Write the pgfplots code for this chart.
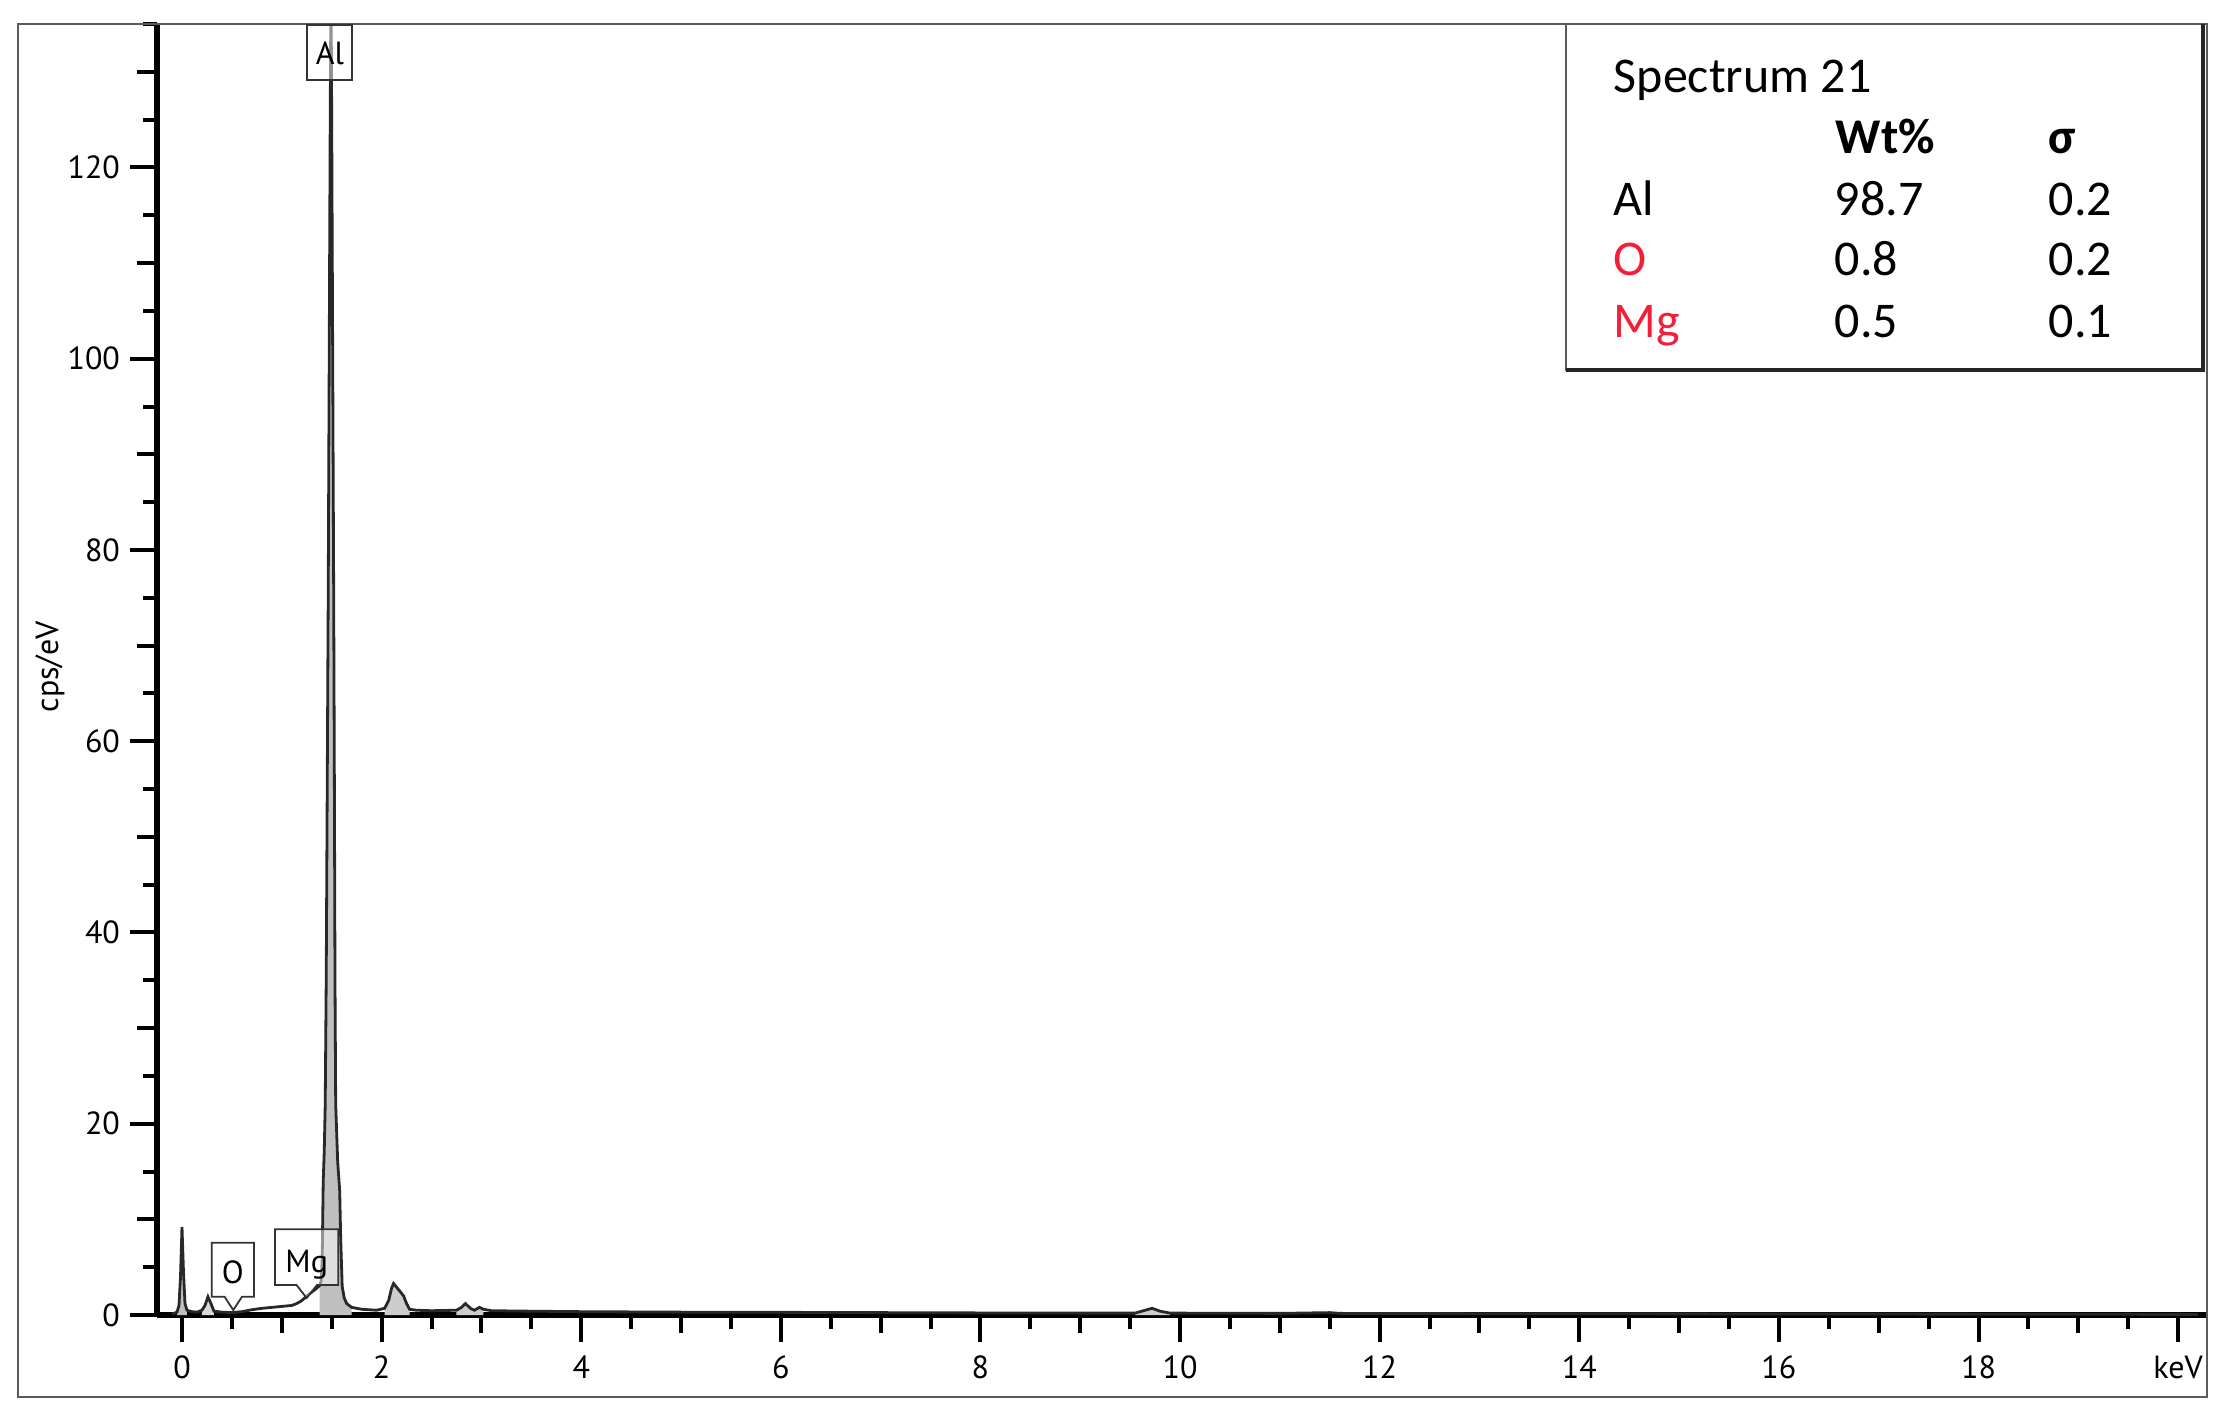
\documentclass[border=0pt]{standalone}
\usepackage{fontspec}
\setmainfont{PT Sans}
\newfontfamily\legfont{Carlito}
\usepackage{pgfplots}
\pgfplotsset{compat=1.18}
\usepackage{pgfplotstable}

\pgfplotstableread{
E cps
-0.10 0.10
-0.05 0.30
-0.03 1.0
-0.015 4.0
0.00 9.2
0.015 4.5
0.03 1.2
0.05 0.5
0.10 0.35
0.15 0.30
0.20 0.50
0.23 1.0
0.26 1.9
0.29 1.2
0.32 0.40
0.40 0.30
0.50 0.25
0.60 0.35
0.70 0.55
0.80 0.70
0.90 0.80
1.00 0.90
1.10 1.00
1.15 1.20
1.20 1.50
1.25 2.00
1.30 2.40
1.35 2.80
1.38 3.10
1.395 3.6
1.405 6.0
1.415 14
1.425 17
1.435 22
1.445 35
1.455 55
1.465 75
1.475 100
1.485 125
1.493 140
1.500 125
1.510 100
1.520 75
1.527 55
1.533 35
1.540 22
1.560 16
1.580 13
1.590 8
1.605 3.0
1.625 1.8
1.65 1.2
1.70 0.8
1.80 0.6
1.95 0.5
2.03 0.7
2.07 1.5
2.10 2.8
2.12 3.3
2.15 2.9
2.19 2.4
2.22 2.0
2.25 1.2
2.28 0.6
2.35 0.5
2.50 0.45
2.75 0.5
2.80 0.8
2.84 1.2
2.89 0.7
2.93 0.5
2.98 0.8
3.02 0.6
3.10 0.45
3.50 0.40
4.00 0.35
5.00 0.30
6.00 0.28
7.00 0.25
8.00 0.22
9.00 0.20
9.55 0.20
9.65 0.50
9.72 0.70
9.80 0.40
9.90 0.20
11.00 0.17
11.50 0.25
11.60 0.17
13.00 0.14
15.00 0.12
17.00 0.10
19.00 0.08
20.20 0.06
}\spectrum

\definecolor{peakfill}{RGB}{192,192,192}
\definecolor{lineclr}{RGB}{40,40,40}
\definecolor{elred}{RGB}{245,30,55}
\definecolor{framegray}{RGB}{90,90,90}

\begin{document}
\begin{tikzpicture}
\begin{axis}[
  scale only axis, width=512.5pt, height=322.75pt,
  xmin=-0.25, xmax=20.29, ymin=0, ymax=135,
  axis x line*=bottom, axis y line*=left,
  axis line style={line width=1.3pt, black},
  tick align=outside,
  xtick={0,2,...,20},
  xticklabels={0,2,4,6,8,10,12,14,16,18,keV},
  minor xtick={0.5,1,...,20},
  extra x ticks={1,3,...,19}, extra x tick labels={},
  extra x tick style={major tick length=4.5pt},
  ytick={0,20,...,120},
  minor ytick={5,10,...,135},
  extra y ticks={10,30,...,130}, extra y tick labels={},
  extra y tick style={major tick length=5pt},
  major tick length=6.75pt, minor tick length=3.4pt,
  tick style={line width=1pt, black},
  tick label style={font=\fontsize{8}{9}\selectfont},
  yticklabel style={xshift=1pt},
  /pgf/number format/assume math mode=true,
  ylabel={cps/eV},
  ylabel style={at={(axis description cs:-0.0522,0.502)}, anchor=center, font=\fontsize{8}{9}\selectfont},
]
\addplot[draw=none, fill=peakfill, restrict x to domain=-0.05:0.05] table[x=E,y=cps]{\spectrum} \closedcycle;
\addplot[draw=none, fill=peakfill!60, restrict x to domain=0.20:0.32] table[x=E,y=cps]{\spectrum} \closedcycle;
\addplot[draw=none, fill=peakfill, restrict x to domain=1.36:1.72] table[x=E,y=cps]{\spectrum} \closedcycle;
\addplot[draw=none, fill=peakfill!80, restrict x to domain=2.03:2.30] table[x=E,y=cps]{\spectrum} \closedcycle;
\addplot[draw=none, fill=peakfill!80, restrict x to domain=2.75:3.05] table[x=E,y=cps]{\spectrum} \closedcycle;
\addplot[draw=none, fill=peakfill!80, restrict x to domain=9.55:9.90] table[x=E,y=cps]{\spectrum} \closedcycle;
\addplot[lineclr, line width=0.7pt] table[x=E,y=cps]{\spectrum};
\coordinate (O) at (axis cs:0,0);
\end{axis}
\begin{scope}[x=0.25pt, y=-0.25pt, shift={(O)}]
\begin{scope}[shift={(-182,-1315)}]
  \path (0,0) rectangle (2224,1416);
  % outer frame
  \draw[framegray, line width=0.5pt] (18,24) rectangle (2207,1397);
  % legend box
  \draw[framegray, line width=0.5pt, fill=white] (1566,24) rectangle (2203,370);
  \draw[black!85, line width=1.2pt] (2203,24) -- (2203,370) -- (1566,370);
  \begin{scope}[every node/.style={anchor=base west, inner sep=0pt, font=\legfont\fontsize{12.5}{14}\selectfont}]
    \node at (1613,93) {Spectrum 21};
    \node at (1835,153) {\bfseries Wt\%};
    \node at (2048,153) {\bfseries σ};
    \node at (1613,215) {Al};
    \node at (1834,215) {98.7};
    \node at (2048,215) {0.2};
    \node[text=elred] at (1613,275) {O};
    \node at (1834,275) {0.8};
    \node at (2048,275) {0.2};
    \node[text=elred] at (1613,337) {Mg};
    \node at (1834,337) {0.5};
    \node at (2048,337) {0.1};
  \end{scope}
  % peak labels
  \draw[black!80, line width=0.45pt, fill=white, fill opacity=0.5] (307,25) rectangle (352,80);
  \node[anchor=base, inner sep=0pt, font=\fontsize{8}{9}\selectfont] at (330,65) {Al};
  \draw[black!80, line width=0.45pt, fill=white, fill opacity=0.5]
     (211.7,1242.7) -- (254,1242.7) -- (254,1296.7) -- (242,1296.7) -- (233.3,1310)
     -- (224.5,1296.7) -- (211.7,1296.7) -- cycle;
  \node[anchor=base, inner sep=0pt, font=\fontsize{8}{9}\selectfont] at (232.8,1283) {O};
  \draw[black!80, line width=0.45pt, fill=white, fill opacity=0.5]
     (275,1229.3) -- (338.3,1229.3) -- (338.3,1285) -- (317,1285) -- (306.7,1298)
     -- (296.5,1285) -- (275,1285) -- cycle;
  \node[anchor=base, inner sep=0pt, font=\fontsize{8}{9}\selectfont] at (306.7,1272) {Mg};
\end{scope}
\end{scope}
\end{tikzpicture}
\end{document}
